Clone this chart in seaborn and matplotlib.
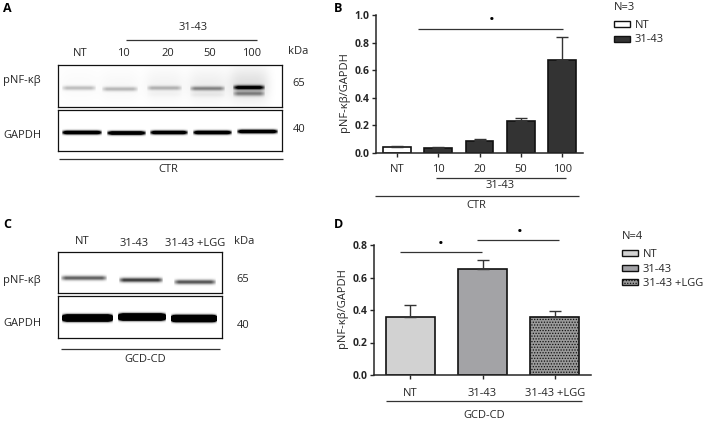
import numpy as np
import matplotlib
matplotlib.use("Agg")
import matplotlib.pyplot as plt
from matplotlib.patches import Patch
import seaborn as sns

# panel B
ctr_groups = ["NT", "10", "20", "50", "100"]
ctr_values = [0.04, 0.032, 0.087, 0.228, 0.675]
ctr_errors = [0.01, 0.006, 0.013, 0.025, 0.165]

# panel D
gcd_groups = ["NT", "31-43", "31-43 +LGG"]
gcd_values = [0.355, 0.655, 0.36]
gcd_errors = [0.075, 0.05, 0.035]

# blot band darkness per lane
blot_a_target = [0.25, 0.27, 0.28, 0.45, 1.1]
blot_a_second = [0.0, 0.0, 0.02, 0.05, 0.45]
blot_a_haze = [0.02, 0.03, 0.05, 0.07, 0.13]
blot_a_gapdh = [1.8, 1.8, 1.7, 1.8, 1.7]
blot_c_target = [0.65, 0.8, 0.7]
blot_c_gapdh = [6.0, 6.0, 6.0]

W, H = 708, 422
TEXT = "#262626"

sns.set_style("ticks")
plt.rcParams["font.family"] = ["Open Sans", "DejaVu Sans"]
plt.rcParams["hatch.linewidth"] = 0.6

fig = plt.figure(figsize=(W / 100, H / 100), dpi=100)


def px_axes(x0, y0, x1, y1):
    return fig.add_axes([x0 / W, 1 - y1 / H, (x1 - x0) / W, (y1 - y0) / H])


def smooth(t):
    return np.clip(t, 0, 1) ** 0.5


def blot(box, lanes, centers, darkness, thick, second=None, haze=None):
    x0, y0, x1, y1 = box
    xx, yy = np.meshgrid(np.arange(x0, x1 + 0.5, 0.5), np.arange(y0, y1 + 0.5, 0.5))
    img = np.zeros(xx.shape)
    for i, ((a, b), c, d) in enumerate(zip(lanes, centers, darkness)):
        edge = smooth((xx - a) / 5) * smooth((b - xx) / 5)
        img += d * edge * np.exp(-(((yy - c) / thick) ** 2))
        if second is not None:
            img += second[i] * edge * np.exp(-(((yy - c - 6) / 2.5) ** 2))
        if haze is not None:
            mid = (a + b) / 2
            img += haze[i] * np.exp(-(((xx - mid) / 20) ** 4) - ((yy - c + 3) / 17) ** 2)
    ax = px_axes(x0, y0, x1, y1)
    sns.heatmap(img, ax=ax, cmap="gray_r", vmin=0, vmax=1.05, cbar=False,
                xticklabels=False, yticklabels=False)
    for s in ax.spines.values():
        s.set_visible(True)
        s.set_linewidth(0.9)
        s.set_color("#111111")
    return ax


def bars(ax, groups, values, errors, colors, width, pad):
    sns.barplot(x=groups, y=values, hue=groups, palette=colors, dodge=False, width=width,
                edgecolor="#111111", linewidth=1.2, errorbar=None, legend=False, ax=ax)
    ax.errorbar(range(len(groups)), values, yerr=[np.zeros(len(errors)), errors], fmt="none",
                ecolor="#333333", elinewidth=1.0, capsize=4, capthick=1.0)
    ax.set_facecolor("none")
    sns.despine(ax=ax)
    ax.spines["left"].set_linewidth(1.1)
    ax.spines["bottom"].set_linewidth(1.1)
    ax.set_xlim(-0.5, len(groups) - 0.5)
    ax.tick_params(axis="x", labelsize=8, colors=TEXT, length=3, width=1, pad=pad)
    ax.tick_params(axis="y", labelsize=7.5, length=3, width=1, pad=1.5, labelcolor=TEXT)
    ax.set_ylabel("pNF-κβ/GAPDH", fontsize=8, color=TEXT)


# blots
blot((58, 65, 282, 106.5), [(62, 96), (102, 138), (147, 182), (190, 225), (233, 265)],
     [88, 89, 88, 88.5, 87.5], blot_a_target, 2.2, second=blot_a_second, haze=blot_a_haze)
blot((58, 109.5, 282, 151), [(62, 102), (107, 146), (150, 188), (193, 232), (237, 278)],
     [132.5, 133, 132.5, 132.5, 131.5], blot_a_gapdh, 1.9)
blot((58, 252, 222, 293), [(61, 107), (119, 163), (174, 216)],
     [278, 280, 282], blot_c_target, 2.3)
blot((58, 296, 222, 338), [(62, 113), (118, 166), (171, 217)],
     [318, 317, 318.5], blot_c_gapdh, 2.6)

# bar panels
ax_b = px_axes(376, 15, 583, 152.7)
bars(ax_b, ctr_groups, ctr_values, ctr_errors, ["white"] + ["#333333"] * 4, 0.67, 5)
ax_b.set_ylim(0, 1.0)
ax_b.set_yticks([0, 0.2, 0.4, 0.6, 0.8, 1.0])
ax_b.set_yticklabels(["0.0", "0.2", "0.4", "0.6", "0.8", "1.0"], fontweight="bold")
ax_b.yaxis.set_label_coords((350 - 376) / 207, 0.44)

ax_d = px_axes(374, 245, 591, 375)
gcd_colors = ["#d2d2d2", "#a3a3a7", "#9a9a9a"]
bars(ax_d, gcd_groups, gcd_values, gcd_errors, gcd_colors, 0.68, 6)
ax_d.patches[2].set_hatch("......")
ax_d.set_ylim(0, 0.8)
ax_d.set_yticks([0, 0.2, 0.4, 0.6, 0.8])
ax_d.set_yticklabels(["0.0", "0.2", "0.4", "0.6", "0.8"], fontweight="bold")
ax_d.yaxis.set_label_coords((348 - 374) / 217, 0.515)

# overlay in pixel coordinates for labels and brackets
ov = px_axes(0, 0, W, H)
ov.set_xlim(0, W)
ov.set_ylim(H, 0)
ov.axis("off")
ov.set_zorder(5)


def label(x, y, s, ha="center", size=8, **kw):
    ov.text(x, y, s, ha=ha, va="center", fontsize=size, color=kw.pop("color", TEXT), **kw)


def rule(x0, x1, y):
    ov.plot([x0, x1], [y, y], color="#333333", lw=0.9, solid_capstyle="butt")


for x, y, s in [(3, 8, "A"), (334, 8, "B"), (3, 224, "C"), (334, 224, "D")]:
    label(x, y, s, ha="left", size=9, fontweight="bold", color="black")

# panel A text
for x, s in zip([80, 123, 168, 210, 252], ["NT", "10", "20", "50", "100"]):
    label(x, 53, s)
label(193, 28, "31-43")
rule(126, 257, 40)
label(298, 52, "kDa")
label(3, 80, "pNF-κβ", ha="left")
label(3, 135, "GAPDH", ha="left")
label(299, 84, "65")
label(299, 130, "40")
rule(59, 283, 159)
label(168, 170, "CTR")

# panel C text
label(82, 242, "NT")
label(134, 243, "31-43")
label(195, 243, "31-43 +LGG")
label(244, 241, "kDa")
label(3, 281, "pNF-κβ", ha="left")
label(3, 323, "GAPDH", ha="left")
label(243, 280, "65")
label(243, 325, "40")
rule(61, 220, 349)
label(145, 360, "GCD-CD")

# panel B brackets
rule(418, 563, 29)
label(492, 21, "•", size=11, color="black")
rule(436, 566, 178)
label(500, 186, "31-43")
rule(375, 579, 196)
label(476, 206, "CTR")

# panel D brackets
rule(400, 482, 252)
label(441, 245, "•", size=11, color="black")
rule(477, 559, 240)
label(520, 233, "•", size=11, color="black")
rule(386, 582, 401)
label(484, 416, "GCD-CD")


def legend(x, y, title, names, colors, hatches):
    handles = [Patch(facecolor=c, edgecolor="#111111", linewidth=1.0, hatch=h, label=n)
               for n, c, h in zip(names, colors, hatches)]
    lg = ov.legend(handles=handles, title=title, loc="upper left",
                   bbox_to_anchor=(x / W, 1 - y / H), frameon=False, fontsize=8,
                   title_fontsize=8, alignment="left", handlelength=1.4, handleheight=0.45,
                   handletextpad=0.45, labelspacing=0.32, borderpad=0, borderaxespad=0)
    lg._legend_box.sep = 5
    lg.get_title().set_color(TEXT)
    for t in lg.get_texts():
        t.set_color(TEXT)
    return lg


ov.add_artist(legend(614, 2, "N=3", ["NT", "31-43"], ["white", "#333333"], [None, None]))
legend(622, 231, "N=4", gcd_groups, gcd_colors, [None, None, "......"])

fig.savefig("out.png", dpi=100)
